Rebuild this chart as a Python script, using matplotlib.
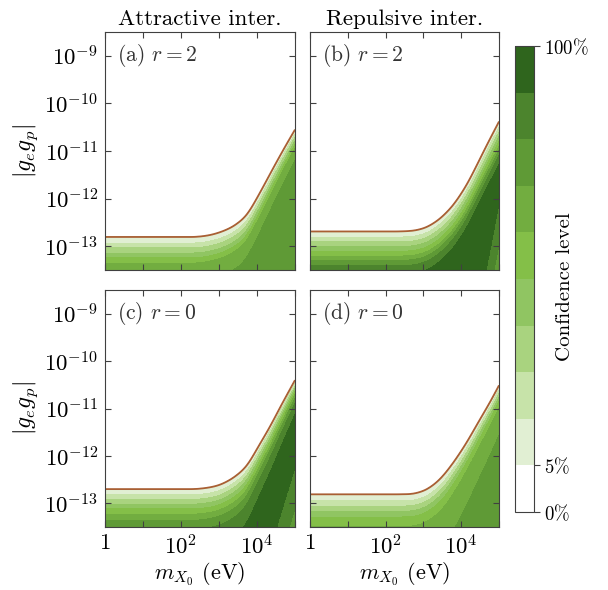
import numpy as np
import matplotlib
matplotlib.use('Agg')
from matplotlib import pyplot as plt
from matplotlib.colors import ListedColormap, BoundaryNorm

#################################################

plt.rcParams.update({'font.family': 'serif',
                     'font.serif': ['cmr10'],
                     'mathtext.fontset': 'cm',
                     'axes.formatter.use_mathtext': True,
                     'axes.unicode_minus': False})

# confidence levels and band colours
levels = [0.0, 0.05, 0.2, 0.3, 0.4, 0.5, 0.6, 0.7, 0.8, 0.9, 1.0]
band_colors = ['#ffffff', '#e1efd3', '#c7e3a9', '#a9d37f', '#90c562',
               '#84bf48', '#72ad40', '#5f9a36', '#4c842d', '#2f651d']

# 5% boundary: log10(m / eV) -> log10|g_e g_p|
logm_a = [0.0, 2.675, 3.03, 3.375, 3.73, 4.08, 4.25, 4.52, 4.78, 5.0]
logg_a = [-12.805, -12.785, -12.71, -12.59, -12.365, -11.875, -11.62, -11.22, -10.85, -10.55]
logm_b = [0.0, 2.73, 3.08, 3.43, 3.78, 4.13, 4.40, 4.66, 5.0]
logg_b = [-12.69, -12.68, -12.61, -12.435, -12.155, -11.74, -11.32, -10.90, -10.38]
logm_c = [0.0, 2.675, 3.03, 3.375, 3.73, 4.08, 4.34, 4.61, 5.0]
logg_c = [-12.70, -12.68, -12.615, -12.47, -12.23, -11.74, -11.39, -10.97, -10.40]
logm_d = [0.0, 2.73, 3.08, 3.43, 3.78, 4.13, 4.48, 4.79, 5.0]
logg_d = [-12.81, -12.805, -12.72, -12.51, -12.16, -11.74, -11.25, -10.83, -10.51]

# confidence vs depth below that boundary (decades of |g_e g_p|)
depth_a = [-0.03, 0.0, 0.13, 0.23, 0.34, 0.44, 0.55, 0.92, 2.0, 4.0]
conf_a = [0.0, 0.05, 0.2, 0.3, 0.4, 0.5, 0.6, 0.7, 0.76, 0.78]
depth_b = [-0.03, 0.0, 0.12, 0.22, 0.32, 0.42, 0.52, 0.61, 0.72, 0.9, 1.2, 4.0]
conf_b = [0.0, 0.05, 0.2, 0.3, 0.4, 0.5, 0.6, 0.7, 0.8, 0.9, 0.95, 0.97]
depth_c = [-0.03, 0.0, 0.12, 0.22, 0.32, 0.42, 0.53, 0.66, 0.85, 1.25, 1.6, 4.0]
conf_c = [0.0, 0.05, 0.2, 0.3, 0.4, 0.5, 0.6, 0.7, 0.8, 0.9, 0.95, 0.97]
depth_d = [-0.03, 0.0, 0.14, 0.25, 0.36, 0.48, 0.68, 1.5, 2.4, 4.0]
conf_d = [0.0, 0.05, 0.2, 0.3, 0.4, 0.5, 0.6, 0.7, 0.76, 0.78]

# how the band spacing shrinks towards heavy mediators
scale_m = [0.0, 3.6, 5.0]
scale_a = [1.0, 1.0, 0.7]
scale_b = [1.0, 1.0, 1.0]
scale_c = [1.0, 1.0, 0.58]
scale_d = [1.0, 1.0, 0.7]

# where the confidence drops back under 90% (lower right of b and c)
fall_m_b = [4.66, 5.0]
fall_g_b = [-13.48, -12.08]
fall_m_c = [4.52, 5.0]
fall_g_c = [-13.48, -12.23]
fall_depth = [0.0, 0.5, 1.0, 2.0]
fall_conf = [0.9, 0.83, 0.79, 0.76]

titles = ['Attractive inter.', 'Repulsive inter.']
tags = [r'(a) $r=2$', r'(b) $r=2$', r'(c) $r=0$', r'(d) $r=0$']

panels = [(logm_a, logg_a, depth_a, conf_a, scale_a, None, None),
          (logm_b, logg_b, depth_b, conf_b, scale_b, fall_m_b, fall_g_b),
          (logm_c, logg_c, depth_c, conf_c, scale_c, fall_m_c, fall_g_c),
          (logm_d, logg_d, depth_d, conf_d, scale_d, None, None)]

#################################################

# evaluation grid
lm = np.linspace(0, 5, 500)
lg = np.linspace(-13.5, -8.5, 500)
M, G = np.meshgrid(10**lm, 10**lg)
half = 30
kernel = np.hanning(2 * half + 1)
kernel /= kernel.sum()


def smooth(y):
    # reflect about the ends so the smoothing keeps the end slopes
    left = 2 * y[0] - y[1:half + 1][::-1]
    right = 2 * y[-1] - y[-half - 1:-1][::-1]
    return np.convolve(np.concatenate([left, y, right]), kernel, mode='valid')


cmap = ListedColormap(band_colors)
norm = BoundaryNorm(levels, cmap.N)

W, H = 608, 590
fig = plt.figure(figsize=(W / 100, H / 100), dpi=100)
boxes = [(105, 32, 295, 270), (310, 32, 499, 270),
         (105, 290, 295, 527), (310, 290, 499, 527)]

for i, (km, kg, dep, cf, sc, fm, fg) in enumerate(panels):
    x0, y0, x1, y1 = boxes[i]
    ax = fig.add_axes([x0 / W, 1 - y1 / H, (x1 - x0) / W, (y1 - y0) / H])
    edge = np.interp(lm, km, kg)
    edge[lm < 2.5] = kg[0]
    edge = smooth(edge)
    s = np.interp(lm, scale_m, sc)
    Z = np.interp((edge[None, :] - lg[:, None]) / s[None, :], dep, cf)
    if fm is not None:
        slope = (fg[1] - fg[0]) / (fm[1] - fm[0])
        gf = fg[0] + slope * (lm - fm[0])
        below = gf[None, :] - lg[:, None]
        cap = np.where(below > 0, np.interp(below, fall_depth, fall_conf), 1.0)
        Z = np.minimum(Z, cap)
    cs = ax.contourf(M, G, Z, levels=levels, cmap=cmap, norm=norm)
    ax.contour(M, G, Z, levels=[0.05], colors='#a95f34', linewidths=1.3)
    ax.set_xscale('log')
    ax.set_yscale('log')
    ax.set_xlim(1, 1e5)
    ax.set_ylim(10**-13.5, 10**-8.5)
    ax.set_xticks([1, 1e1, 1e2, 1e3, 1e4, 1e5])
    ax.set_yticks([1e-13, 1e-12, 1e-11, 1e-10, 1e-9])
    ax.minorticks_off()
    ax.tick_params(direction='in', top=True, right=True, length=4,
                   labelsize=16.5, color='#404040', pad=5)
    for sp in ax.spines.values():
        sp.set_color('#404040')
    if i < 2:
        ax.set_title(titles[i], fontsize=16.5, pad=5)
        ax.set_xticklabels([])
    else:
        ax.set_xticklabels(['$1$', '', '$10^2$', '', '$10^4$', ''])
        ax.set_xlabel(r'$m_{X_0}$ (eV)', fontsize=16, labelpad=2)
    if i % 2 == 0:
        ax.set_yticklabels([r'$10^{-13}$', r'$10^{-12}$', r'$10^{-11}$',
                            r'$10^{-10}$', r'$10^{-9}$'])
        ax.set_ylabel(r'$|g_e g_p|$', fontsize=17, labelpad=3)
    else:
        ax.set_yticklabels([])
    ax.text(0.065, 0.9, tags[i], transform=ax.transAxes, fontsize=15.5,
            va='center', ha='left', color='#333333')

cax = fig.add_axes([515 / W, 1 - 512 / H, 19 / W, 466 / H])
cb = fig.colorbar(cs, cax=cax, ticks=[0.0, 0.05, 1.0])
cb.minorticks_off()
cb.ax.set_yticklabels([r'$0\%$', r'$5\%$', r'$100\%$'])
cb.ax.tick_params(labelsize=13.5, length=4, color='#404040')
cb.outline.set_edgecolor('#404040')
cb.set_label('Confidence level', fontsize=15, labelpad=-24)
cb.ax.yaxis.label.set_y(0.483)

plt.savefig('out.png', dpi=100)
